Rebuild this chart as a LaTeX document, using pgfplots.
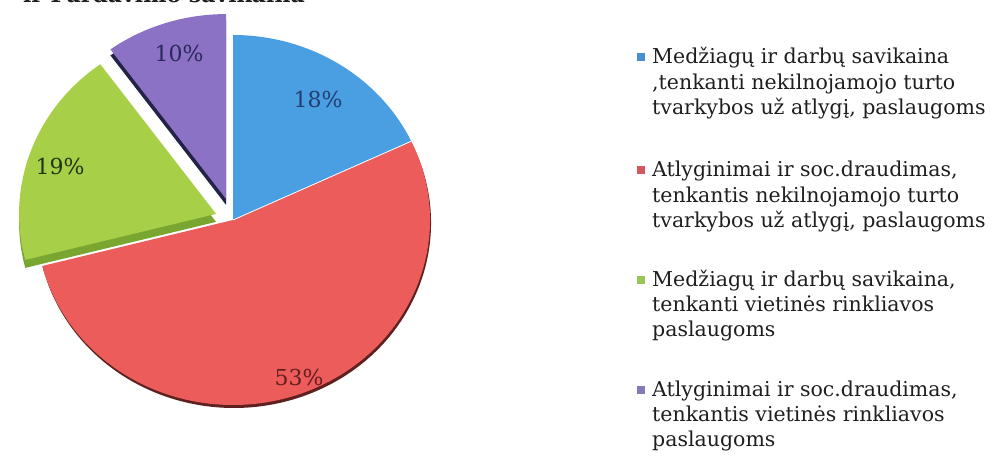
\documentclass[border=0pt]{standalone}
\usepackage{pgfplots}
\pgfplotsset{compat=1.18}
\usepackage{pgfplotstable}
\usepackage{fontspec}
\setmainfont{DejaVu Serif}

\pgfplotstableread{
slice value
blue 18
red 53
green 19
purple 10
}\piedata
\pgfplotstablegetelem{0}{value}\of\piedata \let\vA\pgfplotsretval
\pgfplotstablegetelem{1}{value}\of\piedata \let\vB\pgfplotsretval
\pgfplotstablegetelem{2}{value}\of\piedata \let\vC\pgfplotsretval
\pgfplotstablegetelem{3}{value}\of\piedata \let\vD\pgfplotsretval
\pgfmathsetmacro\aA{90}
\pgfmathsetmacro\aB{\aA-3.6*\vA}
\pgfmathsetmacro\aC{\aB-3.6*\vB}
\pgfmathsetmacro\aD{\aC-3.6*\vC}
\pgfmathsetmacro\aE{\aD-3.6*\vD}
% explode offsets (green 18, purple 22 along mid angles)
\pgfmathsetmacro\gx{233+18*cos((\aC+\aD)/2)}
\pgfmathsetmacro\gy{244+18*sin((\aC+\aD)/2)}
\pgfmathsetmacro\px{233+22*cos((\aD+\aE)/2)}
\pgfmathsetmacro\py{244+22*sin((\aD+\aE)/2)}

\definecolor{cblue}{RGB}{74,158,226}
\definecolor{cred}{RGB}{236,92,90}
\definecolor{credside}{RGB}{95,32,32}
\definecolor{cgreen}{RGB}{167,207,72}
\definecolor{cgreenside}{RGB}{120,166,48}
\definecolor{cpurple}{RGB}{139,114,196}
\definecolor{cpurpleside}{RGB}{35,35,72}
\definecolor{tblue}{RGB}{35,62,112}
\definecolor{tred}{RGB}{100,30,30}
\definecolor{tgreen}{RGB}{32,52,20}
\definecolor{tpurple}{RGB}{42,40,92}
\definecolor{mblue}{RGB}{72,142,212}
\definecolor{mred}{RGB}{212,86,96}
\definecolor{mgreen}{RGB}{152,200,84}
\definecolor{mpurple}{RGB}{132,120,182}
\definecolor{ltext}{RGB}{30,30,30}

\newcommand\slice[5]{\fill[#5] (axis cs:#1,#2) -- ++(#3:197pt and 185pt) arc[start angle=#3, end angle=#4, x radius=197pt, y radius=185pt] -- cycle;}

\begin{document}
\begin{tikzpicture}[x=1pt,y=1pt]
\useasboundingbox (0,0) rectangle (997,464);
\clip (0,0) rectangle (997,464);
\node[anchor=base east, font=\fontsize{22pt}{26pt}\selectfont\bfseries, text=ltext, inner sep=0] at (305,461) {ir Pardavimo savikaina};
\begin{axis}[at={(0,0)}, anchor=south west, width=997pt, height=464pt, scale only axis,
  xmin=0, xmax=997, ymin=0, ymax=464, hide axis, clip=false]
  % red with its dark side
  \slice{234}{241}{\aB}{\aC}{credside}
  \slice{233}{244}{\aB}{\aC}{cred}
  % blue
  \slice{233}{244}{\aA}{\aB}{cblue}
  \draw[white, line width=0.8pt] (axis cs:233,244) -- ++(\aB:197pt and 185pt);
  % green with its side
  \slice{\gx}{\gy-8}{\aC}{\aD}{cgreenside}
  \slice{\gx}{\gy}{\aC}{\aD}{cgreen}
  % purple with its side
  \slice{\px}{\py-6}{\aD}{\aE}{cpurpleside}
  \slice{\px}{\py}{\aD}{\aE}{cpurple}
  % data labels
  \node[text=tpurple, font=\fontsize{22pt}{26pt}\selectfont] at (axis cs:179,411) {10\%};
  \node[text=tblue, font=\fontsize{22pt}{26pt}\selectfont] at (axis cs:318,365) {18\%};
  \node[text=tgreen, font=\fontsize{22pt}{26pt}\selectfont] at (axis cs:60,298) {19\%};
  \node[text=tred, font=\fontsize{22pt}{26pt}\selectfont] at (axis cs:299,87) {53\%};
\end{axis}
% legend
\tikzset{lt/.style={anchor=base west, inner sep=0, text=ltext, font=\fontsize{20.5pt}{25.5pt}\selectfont}}
\fill[mblue] (637,402.5) rectangle ++(8,8);
\node[lt] at (652,400) {Medžiagų ir darbų savikaina};
\node[lt] at (652,374.5) {,tenkanti nekilnojamojo turto};
\node[lt] at (652,349) {tvarkybos už atlygį, paslaugoms};
\fill[mred] (637,289.5) rectangle ++(8,8);
\node[lt] at (652,287) {Atlyginimai ir soc.draudimas,};
\node[lt] at (652,261.5) {tenkantis nekilnojamojo turto};
\node[lt] at (652,236) {tvarkybos už atlygį, paslaugoms};
\fill[mgreen] (637,179.5) rectangle ++(8,8);
\node[lt] at (652,177) {Medžiagų ir darbų savikaina,};
\node[lt] at (652,152) {tenkanti vietinės rinkliavos};
\node[lt] at (652,127) {paslaugoms};
\fill[mpurple] (637,69.5) rectangle ++(8,8);
\node[lt] at (652,67) {Atlyginimai ir soc.draudimas,};
\node[lt] at (652,42) {tenkantis vietinės rinkliavos};
\node[lt] at (652,17) {paslaugoms};
\end{tikzpicture}
\end{document}
